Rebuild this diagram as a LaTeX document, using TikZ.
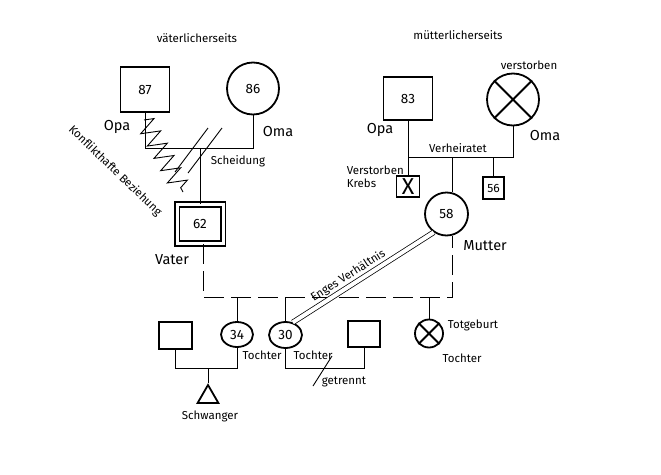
\documentclass[tikz,border=0pt]{standalone}
\usepackage{fontspec}
\setmainfont{Fira Sans}
\usepackage{tikz}
\usetikzlibrary{shapes.geometric,decorations.pathmorphing}

\begin{document}
\begin{tikzpicture}
            [
                x=1pt, y=-1pt,
                line width=0.9pt,
                font=\fontsize{11.5}{13}\selectfont
            ]
            \tikzset{
                malenode/.style = {rectangle, draw=black, line width=1.8pt, inner sep=0pt, font=\fontsize{13.5}{14}\selectfont},
                femalenode/.style = {circle, draw=black, line width=1.8pt, inner sep=0pt, font=\fontsize{13.5}{14}\selectfont},
                daughternode/.style = {ellipse, draw=black, line width=1.8pt, inner sep=0pt, minimum width=32pt, minimum height=25pt, font=\fontsize{13.5}{14}\selectfont},
                namelabel/.style = {font=\fontsize{14.5}{15}\selectfont},
                smalllabel/.style = {font=\fontsize{11.5}{13}\selectfont},
                dashedline/.style = {dash pattern=on 20pt off 7pt},
                crossline/.style = {line width=1.8pt}
            }
            \useasboundingbox (0,0) rectangle (661,474);
            % vaeterlicherseits
            \node [malenode, minimum width=49pt, minimum height=45pt] (opaV) at (145,89.5) {87};
            \node [femalenode, minimum size=52pt] (omaV) at (253,88.5) {86};
            \node [malenode, double, double distance=3pt, line width=1.6pt, minimum width=46pt, minimum height=39pt] (vater) at (200,224) {62};
            % muetterlicherseits
            \node [malenode, minimum width=49pt, minimum height=43pt] (opaM) at (408,98.5) {83};
            \node [femalenode, minimum size=52pt] (omaM) at (513,99.5) {};
            \draw [crossline] (omaM.45) -- (omaM.225) (omaM.135) -- (omaM.315);
            \node [malenode, minimum width=23pt, minimum height=21pt, font=\fontsize{23}{23}\selectfont] (onkel) at (408,186.5) {X};
            \node [malenode, minimum width=21pt, minimum height=22pt, font=\fontsize{12}{12}\selectfont] (tante) at (493.5,188) {56};
            \node [femalenode, minimum size=43pt] (mutter) at (446.5,214) {58};
            % kinder
            \node [malenode, minimum width=33pt, minimum height=27pt] (schwiegersohn) at (175.5,335.5) {};
            \node [daughternode] (t34) at (237,334.5) {34};
            \node [daughternode, minimum width=33pt, minimum height=26pt] (t30) at (285.5,335) {30};
            \node [malenode, minimum width=32pt, minimum height=26pt] (partner) at (364,334) {};
            \node [femalenode, minimum size=28pt] (totgeburt) at (429,333.5) {};
            \draw [crossline] (totgeburt.45) -- (totgeburt.225) (totgeburt.135) -- (totgeburt.315);
            \node [regular polygon, regular polygon sides=3, draw=black, line width=1.8pt, inner sep=0pt, minimum size=24pt] (baby) at (208,397) {};

            % linien
            \coordinate (eheV) at (200,148);
            \coordinate (eheM) at (452,157);
            \coordinate (dL) at (203,297);
            \coordinate (dR) at (452,297);
            \coordinate (paarL) at (208,368);
            \coordinate (paarR) at (320,368);
            \draw (opaV) -- (opaV |- eheV) -- (omaV |- eheV) -- (omaV);
            \draw (eheV) -- (vater);
            \draw (175,172) -- (208,128);
            \draw (188,173) -- (222,128);
            \draw [decorate, decoration={zigzag, segment length=14pt, amplitude=9.5pt}] (144,120) -- (183,192);
            \draw (opaM) -- (onkel);
            \draw (opaM |- eheM) -- (omaM |- eheM) -- (omaM);
            \draw (eheM) -- (eheM |- mutter.north);
            \draw (tante |- eheM) -- (tante);
            \draw [dashedline] (dL |- vater.south) -- (dL) -- (dR) -- (dR |- mutter.south);
            \draw (t34 |- dL) -- (t34);
            \draw (t30 |- dL) -- (t30);
            \draw (totgeburt |- dL) -- (totgeburt);
            \draw (schwiegersohn) -- (schwiegersohn |- paarL) -- (t34 |- paarL) -- (t34);
            \draw (paarL) -- (baby);
            \draw (t30) -- (t30 |- paarR) -- (partner |- paarR) -- (partner);
            \draw (313,386) -- (332,356);
            \draw [double, double distance=4pt, line width=0.75pt] (t30.60) -- (mutter.235)
                node [sloped, above, pos=.43, smalllabel] (engesLabel) {Enges Verhältnis};

            % beschriftung
            \node [smalllabel] (vaeterl) at (197,38) {väterlicherseits};
            \node [smalllabel] (muetterl) at (458,35) {mütterlicherseits};
            \node [namelabel] (opaVLabel) at (117,127) {Opa};
            \node [namelabel] (omaVLabel) at (278,132) {Oma};
            \node [namelabel] (opaMLabel) at (380,130) {Opa};
            \node [namelabel] (omaMLabel) at (545,136) {Oma};
            \node [namelabel] (vaterLabel) at (172,260) {Vater};
            \node [namelabel] (mutterLabel) at (485,246) {Mutter};
            \node [smalllabel] (scheidLabel) at (238,161) {Scheidung};
            \node [smalllabel] (eheLabel) at (458,148) {Verheiratet};
            \node [smalllabel] (verstLabel) at (529,65) {verstorben};
            \node [smalllabel, align=left, anchor=west] (krebsLabel) at (343,176.5) {Verstorben\\Krebs};
            \node [smalllabel, rotate=-44] (konfliktLabel) at (115,171) {Konflikthafte Beziehung};
            \node [smalllabel] (t34Label) at (262,355) {Tochter};
            \node [smalllabel] (t30Label) at (313,355) {Tochter};
            \node [smalllabel] (totLabel) at (473,325) {Totgeburt};
            \node [smalllabel] (totTLabel) at (462,358) {Tochter};
            \node [smalllabel] (babyLabel) at (210,416) {Schwanger};
            \node [smalllabel] (getrLabel) at (344,382) {getrennt};
\end{tikzpicture}
\end{document}
